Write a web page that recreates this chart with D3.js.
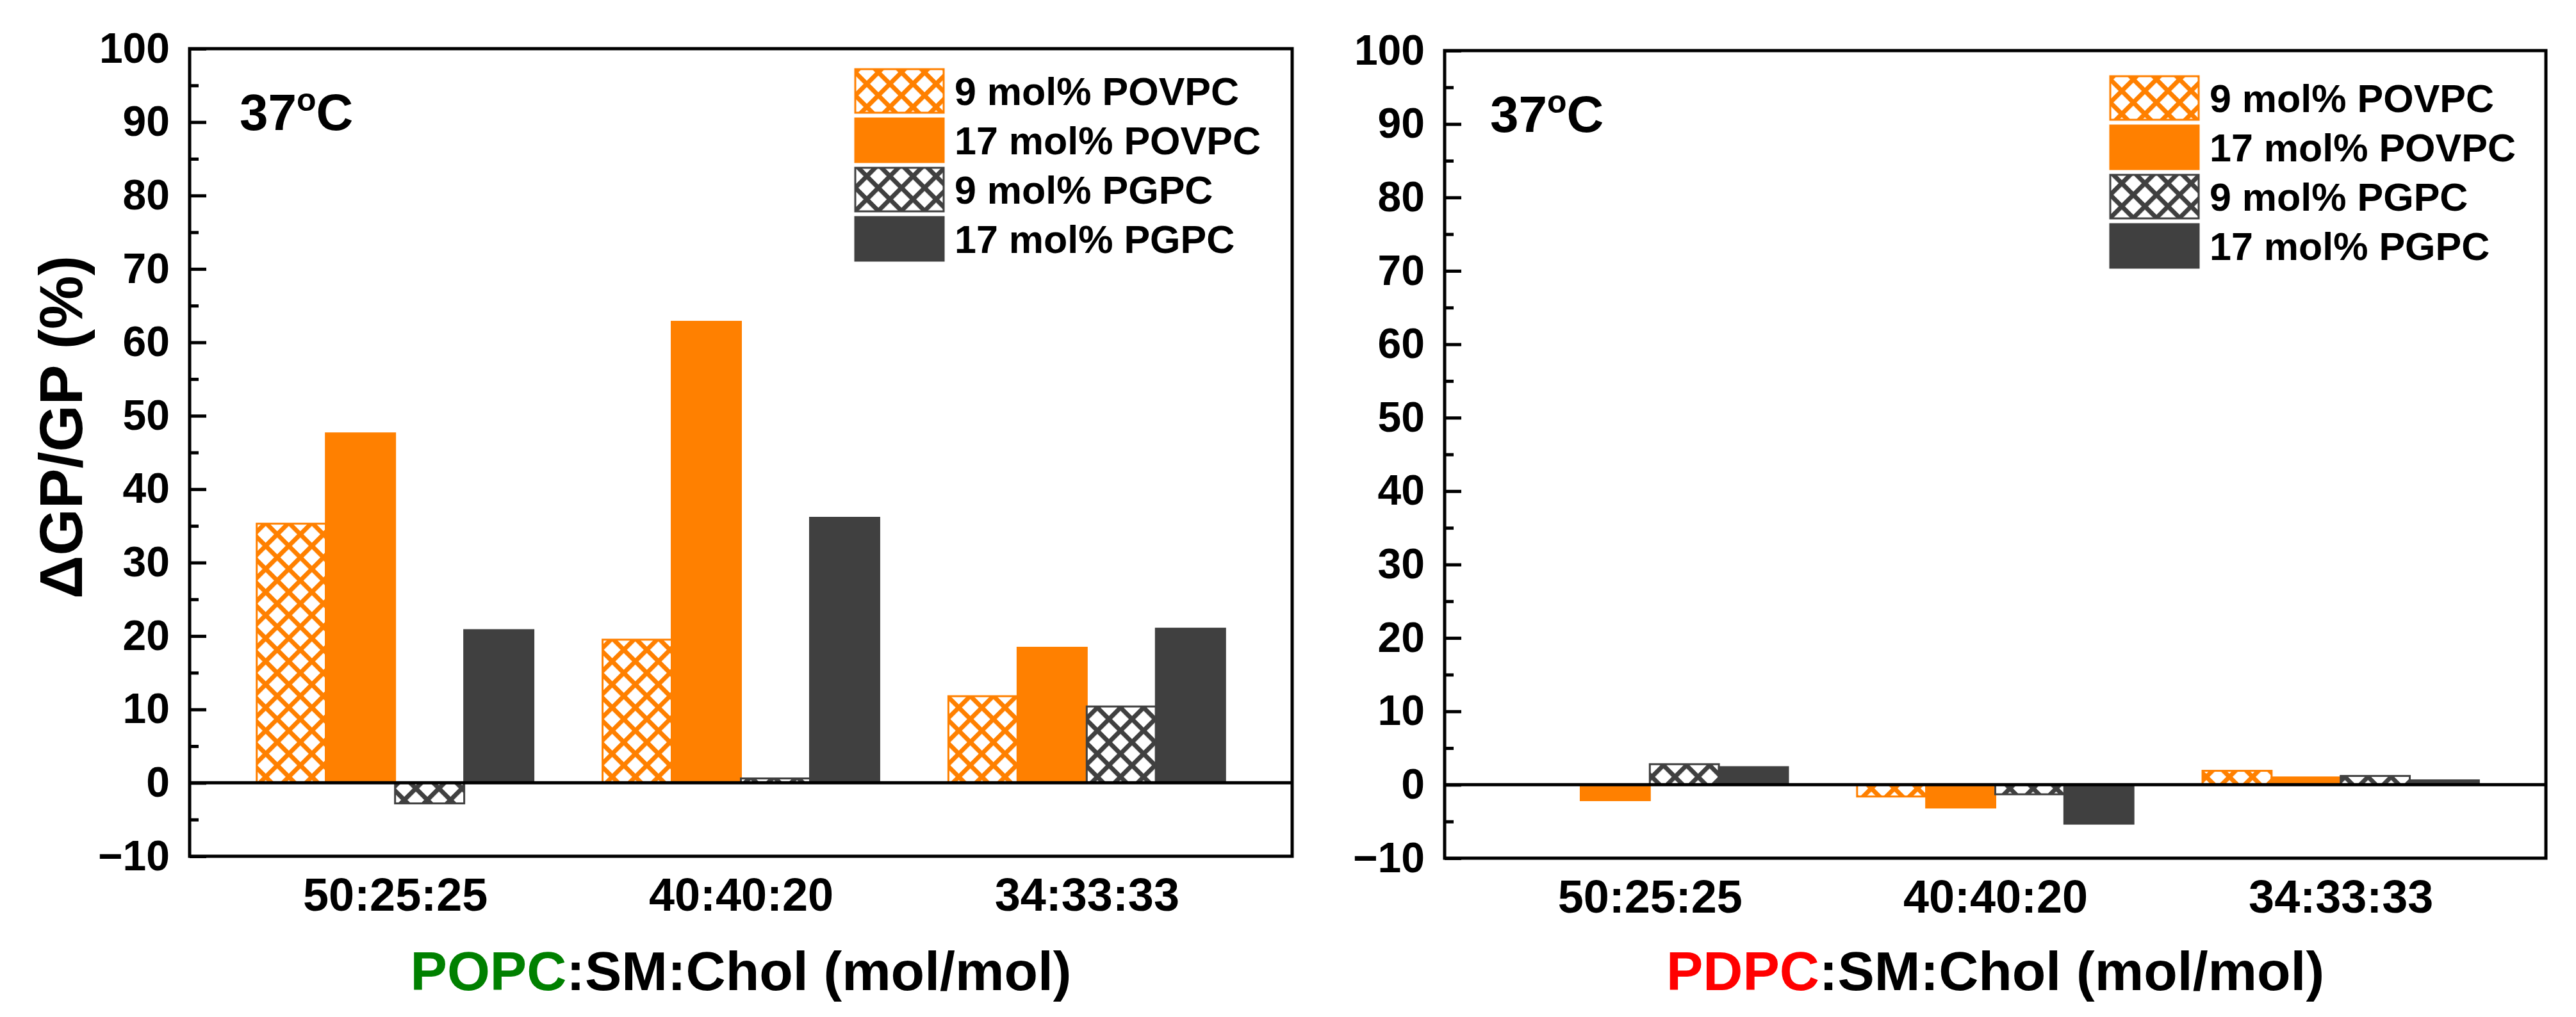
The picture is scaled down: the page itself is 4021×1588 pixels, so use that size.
<!DOCTYPE html>
<html>
<head>
<meta charset="utf-8">
<script src="https://cdn.jsdelivr.net/npm/d3@7"></script>
<style>
  body { margin: 0; background: #fff; }
  svg text { font-family: "Liberation Sans", Arial, sans-serif; font-weight: bold; fill: #000; }
</style>
</head>
<body>
<div id="chart"></div>
<script>
// categories and series
const categories = ["50:25:25", "40:40:20", "34:33:33"];
const seriesNames = ["9 mol% POVPC", "17 mol% POVPC", "9 mol% PGPC", "17 mol% PGPC"];

// POPC panel values (%)
const popc_povpc9 = [35.3, 19.5, 11.8];
const popc_povpc17 = [47.6, 62.8, 18.4];
const popc_pgpc9 = [-2.8, 0.6, 10.4];
const popc_pgpc17 = [20.8, 36.1, 21.0];

// PDPC panel values (%)
const pdpc_povpc9 = [0.0, -1.6, 1.9];
const pdpc_povpc17 = [-2.1, -3.1, 1.0];
const pdpc_pgpc9 = [2.8, -1.3, 1.2];
const pdpc_pgpc17 = [2.4, -5.3, 0.6];

const yTicks = d3.range(-10, 101, 10);
const yMinor = d3.range(-5, 100, 10);

const orange = "#ff8000";
const gray = "#404040";

const W = 4021, H = 1588;
const svg = d3.select("#chart").append("svg")
  .attr("width", W).attr("height", H);
svg.append("rect").attr("width", W).attr("height", H).attr("fill", "#fff");

// crosshatch patterns
const defs = svg.append("defs");
function hatch(id, color) {
  const p = 25.5, s = 7;
  const pat = defs.append("pattern")
    .attr("id", id)
    .attr("patternUnits", "userSpaceOnUse")
    .attr("width", p).attr("height", p)
    .attr("patternTransform", "rotate(45)");
  pat.append("rect").attr("width", p).attr("height", p).attr("fill", "#fff");
  pat.append("rect").attr("width", p).attr("height", s).attr("fill", color);
  pat.append("rect").attr("width", s).attr("height", p).attr("fill", color);
}
hatch("hatchOrange", orange);
hatch("hatchGray", gray);

const styles = [
  { fill: "url(#hatchOrange)", stroke: orange },
  { fill: orange, stroke: orange },
  { fill: "url(#hatchGray)", stroke: gray },
  { fill: gray, stroke: gray }
];

function panel(cfg) {
  const { x0, x1, y0, y1, series, lead, legendTop } = cfg;
  const g = svg.append("g");

  const y = d3.scaleLinear().domain([-10, 100]).range([y1, y0]);
  const x = d3.scalePoint().domain(categories).range([x0, x1]).padding(0.594);
  const xs = d3.scaleBand().domain(seriesNames)
    .range([-0.4 * x.step(), 0.4 * x.step()]);

  // bars
  series.forEach((vals, si) => {
    const st = styles[si];
    g.selectAll(null)
      .data(vals.map((v, i) => ({ v, c: categories[i] })).filter(d => d.v !== 0))
      .join("rect")
      .attr("x", d => x(d.c) + xs(seriesNames[si]))
      .attr("width", xs.bandwidth())
      .attr("y", d => Math.min(y(d.v), y(0)))
      .attr("height", d => Math.abs(y(d.v) - y(0)))
      .attr("fill", st.fill)
      .attr("stroke", st.stroke)
      .attr("stroke-width", 3);
  });

  // zero line
  g.append("line")
    .attr("x1", x0).attr("x2", x1)
    .attr("y1", y(0)).attr("y2", y(0))
    .attr("stroke", "#000").attr("stroke-width", 5);

  // y axis: major and minor ticks inward
  const yAxis = g.append("g").attr("transform", `translate(${x0},0)`)
    .call(d3.axisLeft(y).tickValues(yTicks).tickSize(-26).tickPadding(31));
  yAxis.select(".domain").remove();
  yAxis.selectAll("line").attr("stroke-width", 5);
  yAxis.selectAll("text").attr("font-size", 66).attr("dy", "0.32em")
    .style("font-family", "'Liberation Sans', Arial, sans-serif");

  const yMin = g.append("g").attr("transform", `translate(${x0},0)`)
    .call(d3.axisLeft(y).tickValues(yMinor).tickSize(-14).tickFormat(""));
  yMin.select(".domain").remove();
  yMin.selectAll("line").attr("stroke-width", 5);

  // x axis labels
  const xAxis = g.append("g").attr("transform", `translate(0,${y1})`)
    .call(d3.axisBottom(x).tickSize(0));
  xAxis.select(".domain").remove();
  xAxis.selectAll("text").attr("font-size", 72).attr("dy", 0).attr("y", 85)
    .style("font-family", "'Liberation Sans', Arial, sans-serif");

  // frame
  g.append("rect")
    .attr("x", x0).attr("y", y0)
    .attr("width", x1 - x0).attr("height", y1 - y0)
    .attr("fill", "none").attr("stroke", "#000").attr("stroke-width", 5);

  // temperature label
  const t = g.append("text").attr("x", x0 + cfg.tempDx).attr("y", y0 + 127)
    .attr("font-size", 80);
  t.append("tspan").text("37");
  t.append("tspan").attr("font-size", 50).attr("dy", -30).text("o");
  t.append("tspan").attr("dy", 30).text("C");

  // legend
  const lg = g.append("g").attr("transform", `translate(${x0 + 1039},${legendTop})`);
  seriesNames.forEach((name, i) => {
    lg.append("rect")
      .attr("x", 0).attr("y", i * 77)
      .attr("width", 138).attr("height", 68)
      .attr("fill", styles[i].fill)
      .attr("stroke", styles[i].stroke).attr("stroke-width", 3);
    lg.append("text")
      .attr("x", 155).attr("y", i * 77 + 56)
      .attr("font-size", 61)
      .text(name);
  });

  // x title
  const xt = g.append("text")
    .attr("x", (x0 + x1) / 2).attr("y", 1546)
    .attr("text-anchor", "middle").attr("font-size", 86);
  xt.append("tspan").style("fill", cfg.leadColor).text(lead);
  xt.append("tspan").text(":SM:Chol (mol/mol)");

  return { x, y };
}

panel({
  x0: 296, x1: 2017, y0: 76, y1: 1337,
  series: [popc_povpc9, popc_povpc17, popc_pgpc9, popc_pgpc17],
  lead: "POPC", leadColor: "#008000", legendTop: 108, tempDx: 78
});
panel({
  x0: 2255, x1: 3974, y0: 79, y1: 1340,
  series: [pdpc_povpc9, pdpc_povpc17, pdpc_pgpc9, pdpc_pgpc17],
  lead: "PDPC", leadColor: "#ff0000", legendTop: 119, tempDx: 71
});

// y title
svg.append("text")
  .attr("transform", "translate(128,667) rotate(-90)")
  .attr("text-anchor", "middle")
  .attr("font-size", 94)
  .text("ΔGP/GP (%)");
</script>
</body>
</html>
